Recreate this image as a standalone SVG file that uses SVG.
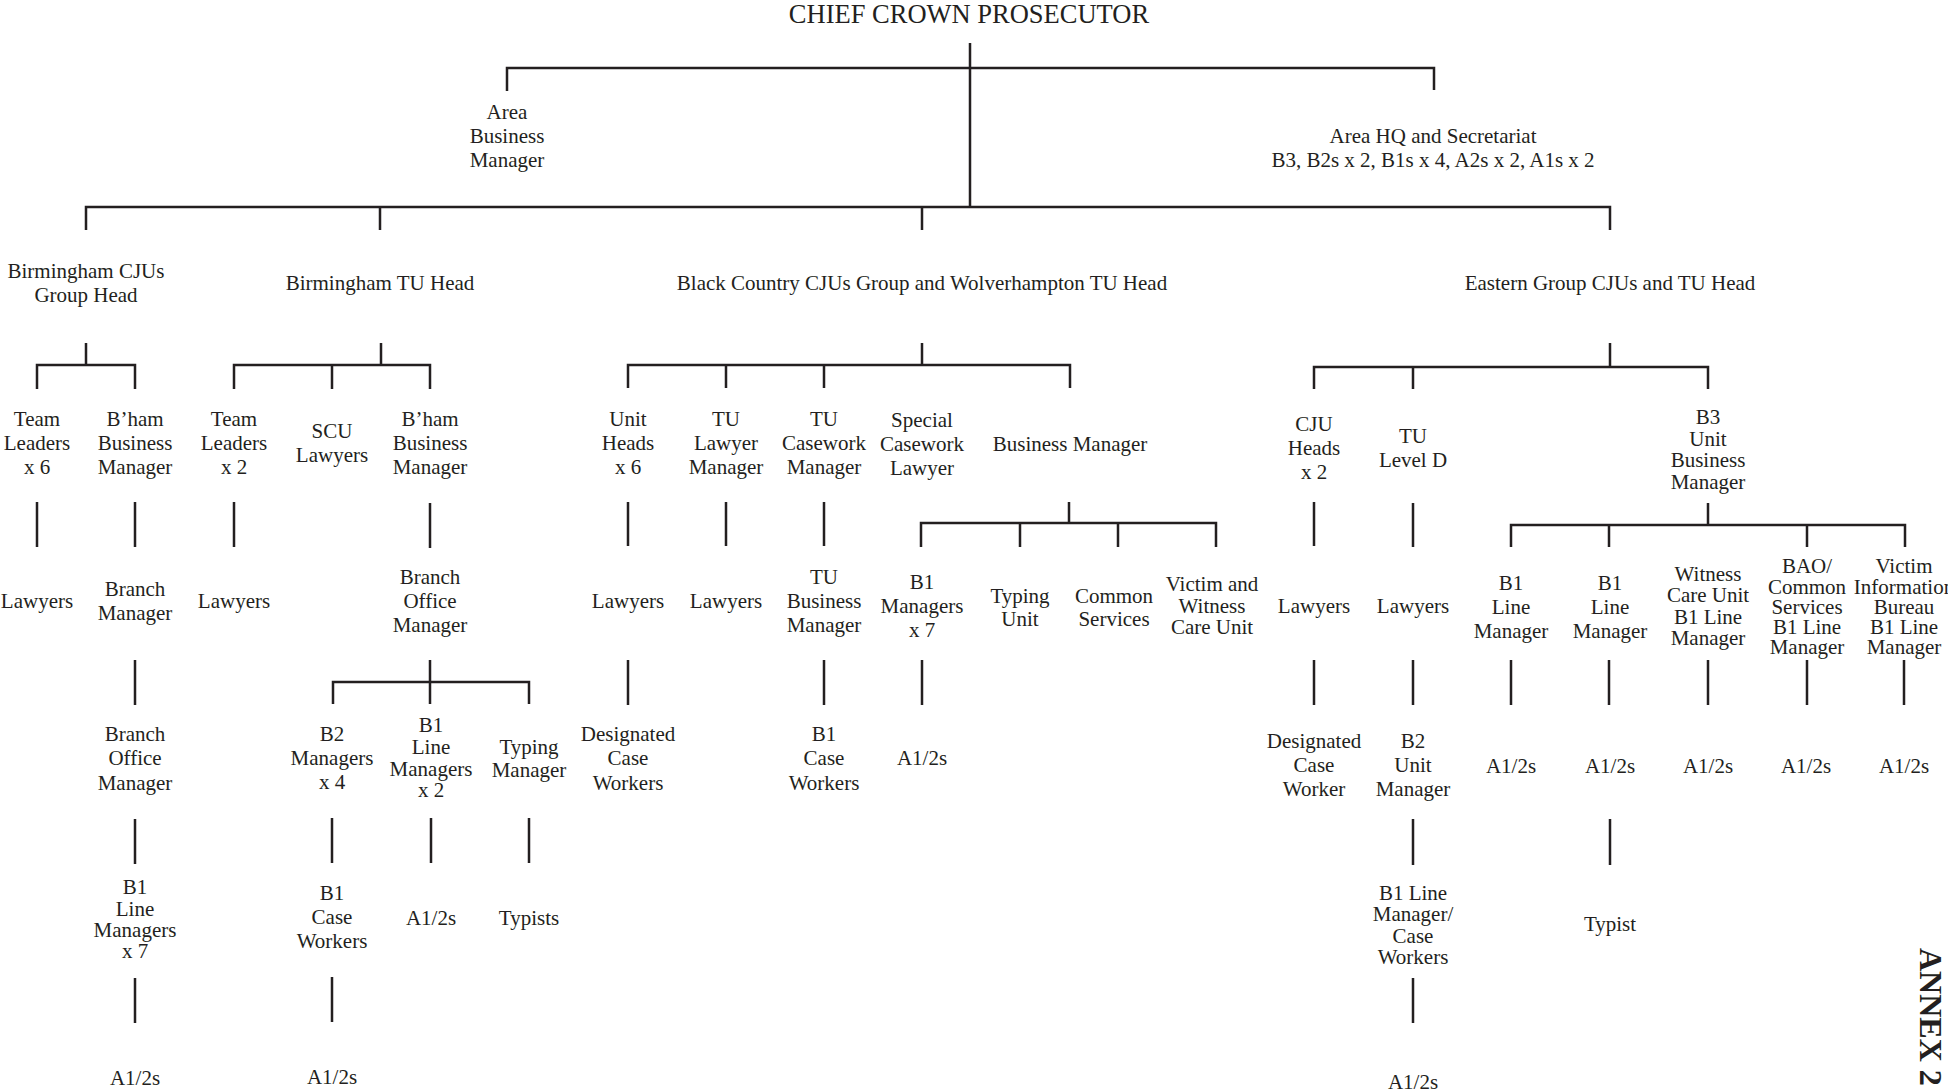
<svg xmlns="http://www.w3.org/2000/svg" width="1948" height="1091" viewBox="0 0 1948 1091">
<style>
.t{font-family:"Liberation Serif","Times New Roman",serif;font-size:21px;fill:#231f20;text-anchor:middle}
.h{font-family:"Liberation Serif","Times New Roman",serif;font-size:26.5px;fill:#231f20;text-anchor:middle}
.ax{font-family:"Liberation Serif","Times New Roman",serif;font-size:32px;font-weight:bold;fill:#231f20}
.c{fill:none;stroke:#231f20;stroke-width:2.5}
</style>
<rect width="1948" height="1091" fill="#ffffff"/>
<g id="connectors" class="c">
<path d="M970 43V207M507 91V68H1434V90M86 230V207H1610V230M380 207V230M922 207V230"/>
<path d="M86 343V365M37 389V365H135V389M37 502V547M135 502V547M135 660V705M135 819V864M135 978V1023"/>
<path d="M381 343V365M234 389V365H430V389M332 365V389M234 502V547M430 503V548M430 660V704M333 704V682H529V704M332 818V863M431 818V863M529 818V863M332 977V1022"/>
<path d="M922 343V365M628 388V365H1070V388M726 365V388M824 365V388M628 502V546M726 502V546M824 502V546M1069 502V523M921 547V523H1216V547M1020 523V547M1118 523V547M628 660V705M824 660V705M922 660V705"/>
<path d="M1610 343V367M1314 389V367H1708V389M1413 367V389M1314 502V546M1413 503V547M1708 503V525M1511 547V525H1905V547M1609 525V547M1807 525V547M1314 660V705M1413 660V705M1511 660V705M1609 660V705M1708 660V705M1807 660V705M1904 660V705M1413 819V865M1610 819V865M1413 978V1023"/>
</g>
<g id="n_ccp"><text class="h" x="969" y="23">CHIEF CROWN PROSECUTOR</text></g>
<g id="n_abm"><text class="t"><tspan x="507" y="119">Area</tspan><tspan x="507" y="143">Business</tspan><tspan x="507" y="167">Manager</tspan></text></g>
<g id="n_hq"><text class="t"><tspan x="1433" y="143">Area HQ and Secretariat</tspan><tspan x="1433" y="167">B3, B2s x 2, B1s x 4, A2s x 2, A1s x 2</tspan></text></g>
<g id="n_bcju"><text class="t"><tspan x="86" y="278">Birmingham CJUs</tspan><tspan x="86" y="302">Group Head</tspan></text></g>
<g id="n_btu"><text class="t" x="380" y="290">Birmingham TU Head</text></g>
<g id="n_bc"><text class="t" x="922" y="290">Black Country CJUs Group and Wolverhampton TU Head</text></g>
<g id="n_eg"><text class="t" x="1610" y="290">Eastern Group CJUs and TU Head</text></g>

<g id="n_tl6"><text class="t"><tspan x="37" y="426">Team</tspan><tspan x="37" y="450">Leaders</tspan><tspan x="37" y="474">x 6</tspan></text></g>
<g id="n_bbm1"><text class="t"><tspan x="135" y="426">B’ham</tspan><tspan x="135" y="450">Business</tspan><tspan x="135" y="474">Manager</tspan></text></g>
<g id="n_law1"><text class="t" x="37" y="608">Lawyers</text></g>
<g id="n_brm"><text class="t"><tspan x="135" y="596">Branch</tspan><tspan x="135" y="620">Manager</tspan></text></g>
<g id="n_bom1"><text class="t"><tspan x="135" y="741">Branch</tspan><tspan x="135" y="765">Office</tspan><tspan x="135" y="790">Manager</tspan></text></g>
<g id="n_b1lm7"><text class="t"><tspan x="135" y="894">B1</tspan><tspan x="135" y="916">Line</tspan><tspan x="135" y="937">Managers</tspan><tspan x="135" y="958">x 7</tspan></text></g>
<g id="n_a1"><text class="t" x="135" y="1085">A1/2s</text></g>

<g id="n_tl2"><text class="t"><tspan x="234" y="426">Team</tspan><tspan x="234" y="450">Leaders</tspan><tspan x="234" y="474">x 2</tspan></text></g>
<g id="n_scu"><text class="t"><tspan x="332" y="438">SCU</tspan><tspan x="332" y="462">Lawyers</tspan></text></g>
<g id="n_bbm2"><text class="t"><tspan x="430" y="426">B’ham</tspan><tspan x="430" y="450">Business</tspan><tspan x="430" y="474">Manager</tspan></text></g>
<g id="n_law2"><text class="t" x="234" y="608">Lawyers</text></g>
<g id="n_bom2"><text class="t"><tspan x="430" y="584">Branch</tspan><tspan x="430" y="608">Office</tspan><tspan x="430" y="632">Manager</tspan></text></g>
<g id="n_b2m4"><text class="t"><tspan x="332" y="741">B2</tspan><tspan x="332" y="765">Managers</tspan><tspan x="332" y="789">x 4</tspan></text></g>
<g id="n_b1lm2"><text class="t"><tspan x="431" y="732">B1</tspan><tspan x="431" y="754">Line</tspan><tspan x="431" y="776">Managers</tspan><tspan x="431" y="797">x 2</tspan></text></g>
<g id="n_tym"><text class="t"><tspan x="529" y="754">Typing</tspan><tspan x="529" y="777">Manager</tspan></text></g>
<g id="n_b1cw1"><text class="t"><tspan x="332" y="900">B1</tspan><tspan x="332" y="924">Case</tspan><tspan x="332" y="948">Workers</tspan></text></g>
<g id="n_a2"><text class="t" x="431" y="925">A1/2s</text></g>
<g id="n_typists"><text class="t" x="529" y="925">Typists</text></g>
<g id="n_a3"><text class="t" x="332" y="1084">A1/2s</text></g>

<g id="n_uh6"><text class="t"><tspan x="628" y="426">Unit</tspan><tspan x="628" y="450">Heads</tspan><tspan x="628" y="474">x 6</tspan></text></g>
<g id="n_tulm"><text class="t"><tspan x="726" y="426">TU</tspan><tspan x="726" y="450">Lawyer</tspan><tspan x="726" y="474">Manager</tspan></text></g>
<g id="n_tucm"><text class="t"><tspan x="824" y="426">TU</tspan><tspan x="824" y="450">Casework</tspan><tspan x="824" y="474">Manager</tspan></text></g>
<g id="n_scl"><text class="t"><tspan x="922" y="427">Special</tspan><tspan x="922" y="451">Casework</tspan><tspan x="922" y="475">Lawyer</tspan></text></g>
<g id="n_bm"><text class="t" x="1070" y="451">Business Manager</text></g>
<g id="n_law3"><text class="t" x="628" y="608">Lawyers</text></g>
<g id="n_law4"><text class="t" x="726" y="608">Lawyers</text></g>
<g id="n_tubm"><text class="t"><tspan x="824" y="584">TU</tspan><tspan x="824" y="608">Business</tspan><tspan x="824" y="632">Manager</tspan></text></g>
<g id="n_b1m7"><text class="t"><tspan x="922" y="589">B1</tspan><tspan x="922" y="613">Managers</tspan><tspan x="922" y="637">x 7</tspan></text></g>
<g id="n_typu"><text class="t"><tspan x="1020" y="603">Typing</tspan><tspan x="1020" y="626">Unit</tspan></text></g>
<g id="n_cs"><text class="t"><tspan x="1114" y="603">Common</tspan><tspan x="1114" y="626">Services</tspan></text></g>
<g id="n_vwcu"><text class="t"><tspan x="1212" y="591">Victim and</tspan><tspan x="1212" y="613">Witness</tspan><tspan x="1212" y="634">Care Unit</tspan></text></g>
<g id="n_dcw"><text class="t"><tspan x="628" y="741">Designated</tspan><tspan x="628" y="765">Case</tspan><tspan x="628" y="790">Workers</tspan></text></g>
<g id="n_b1cw2"><text class="t"><tspan x="824" y="741">B1</tspan><tspan x="824" y="765">Case</tspan><tspan x="824" y="790">Workers</tspan></text></g>
<g id="n_a4"><text class="t" x="922" y="765">A1/2s</text></g>

<g id="n_cjuh"><text class="t"><tspan x="1314" y="431">CJU</tspan><tspan x="1314" y="455">Heads</tspan><tspan x="1314" y="479">x 2</tspan></text></g>
<g id="n_tuld"><text class="t"><tspan x="1413" y="443">TU</tspan><tspan x="1413" y="467">Level D</tspan></text></g>
<g id="n_b3"><text class="t"><tspan x="1708" y="424">B3</tspan><tspan x="1708" y="446">Unit</tspan><tspan x="1708" y="467">Business</tspan><tspan x="1708" y="489">Manager</tspan></text></g>
<g id="n_law5"><text class="t" x="1314" y="613">Lawyers</text></g>
<g id="n_law6"><text class="t" x="1413" y="613">Lawyers</text></g>
<g id="n_b1lma"><text class="t"><tspan x="1511" y="590">B1</tspan><tspan x="1511" y="614">Line</tspan><tspan x="1511" y="638">Manager</tspan></text></g>
<g id="n_b1lmb"><text class="t"><tspan x="1610" y="590">B1</tspan><tspan x="1610" y="614">Line</tspan><tspan x="1610" y="638">Manager</tspan></text></g>
<g id="n_wcu"><text class="t"><tspan x="1708" y="581">Witness</tspan><tspan x="1708" y="602">Care Unit</tspan><tspan x="1708" y="624">B1 Line</tspan><tspan x="1708" y="645">Manager</tspan></text></g>
<g id="n_bao"><text class="t"><tspan x="1807" y="573">BAO/</tspan><tspan x="1807" y="594">Common</tspan><tspan x="1807" y="614">Services</tspan><tspan x="1807" y="634">B1 Line</tspan><tspan x="1807" y="654">Manager</tspan></text></g>
<g id="n_vib"><text class="t"><tspan x="1904" y="573">Victim</tspan><tspan x="1904" y="594">Information</tspan><tspan x="1904" y="614">Bureau</tspan><tspan x="1904" y="634">B1 Line</tspan><tspan x="1904" y="654">Manager</tspan></text></g>
<g id="n_dcw2"><text class="t"><tspan x="1314" y="748">Designated</tspan><tspan x="1314" y="772">Case</tspan><tspan x="1314" y="796">Worker</tspan></text></g>
<g id="n_b2um"><text class="t"><tspan x="1413" y="748">B2</tspan><tspan x="1413" y="772">Unit</tspan><tspan x="1413" y="796">Manager</tspan></text></g>
<g id="n_a5"><text class="t" x="1511" y="773">A1/2s</text></g>
<g id="n_a6"><text class="t" x="1610" y="773">A1/2s</text></g>
<g id="n_a7"><text class="t" x="1708" y="773">A1/2s</text></g>
<g id="n_a8"><text class="t" x="1806" y="773">A1/2s</text></g>
<g id="n_a9"><text class="t" x="1904" y="773">A1/2s</text></g>
<g id="n_b1lmcw"><text class="t"><tspan x="1413" y="900">B1 Line</tspan><tspan x="1413" y="921">Manager/</tspan><tspan x="1413" y="943">Case</tspan><tspan x="1413" y="964">Workers</tspan></text></g>
<g id="n_typist"><text class="t" x="1610" y="931">Typist</text></g>
<g id="n_a10"><text class="t" x="1413" y="1089">A1/2s</text></g>

<g id="annex"><text class="ax" transform="translate(1920,948) rotate(90)">ANNEX 2</text></g>
</svg>
